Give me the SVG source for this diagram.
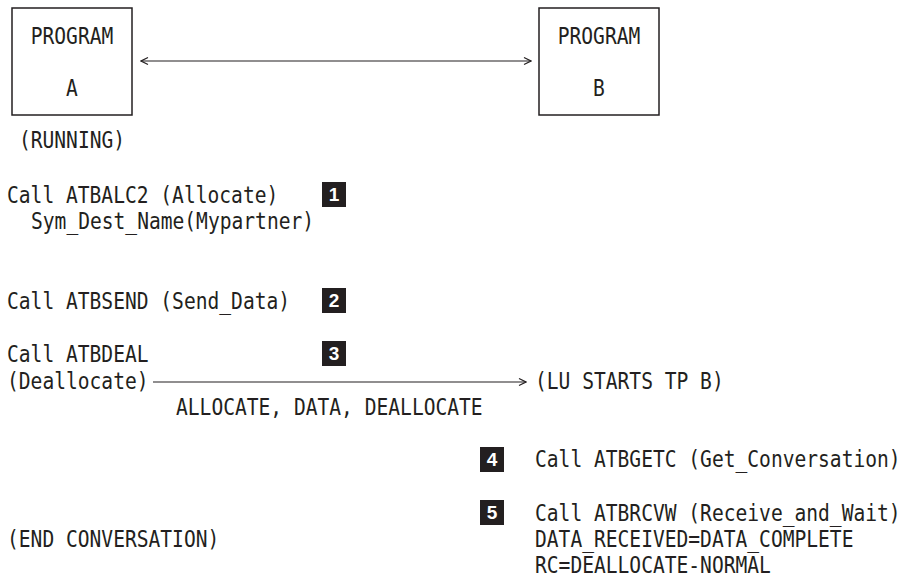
<svg xmlns="http://www.w3.org/2000/svg" width="904" height="580" viewBox="0 0 904 580">
<style>
.t{font-family:"DejaVu Sans Mono","Liberation Mono",monospace;font-size:19.6px;fill:#231f20}
.c{text-anchor:middle}
.box{fill:#fff;stroke:#231f20;stroke-width:1.5}
.ln{stroke:#231f20;stroke-width:1.2;fill:none}
.badge{fill:#231f20}
.num{font-family:"Liberation Sans",Arial,sans-serif;font-weight:bold;font-size:19px;fill:#fff;text-anchor:middle}
</style>
<defs>
<marker id="ah" viewBox="0 0 10 10" refX="9" refY="5" markerWidth="10" markerHeight="10" orient="auto-start-reverse" markerUnits="userSpaceOnUse">
<path d="M2,1.5 L9,5 L2,8.5" fill="none" stroke="#231f20" stroke-width="1.2"/>
</marker>
</defs>
<rect width="904" height="580" fill="#fff"/>
<g id="connectors">
<line class="ln" x1="141" y1="61" x2="531" y2="61" marker-start="url(#ah)" marker-end="url(#ah)"/>
<line class="ln" x1="153" y1="382" x2="526" y2="382" marker-end="url(#ah)"/>
</g>
<g id="programA">
<rect class="box" x="12" y="8" width="120" height="107"/>
<text class="t c" transform="translate(72,44) scale(1,1.19)">PROGRAM</text>
<text class="t c" transform="translate(72,96) scale(1,1.19)">A</text>
</g>
<g id="programB">
<rect class="box" x="539" y="8" width="120" height="107"/>
<text class="t c" transform="translate(599,44) scale(1,1.19)">PROGRAM</text>
<text class="t c" transform="translate(599,96) scale(1,1.19)">B</text>
</g>
<g id="running">
<text class="t c" transform="translate(72,148) scale(1,1.19)">(RUNNING)</text>
</g>
<g id="step1">
<text class="t" transform="translate(7,203) scale(1,1.19)">Call ATBALC2 (Allocate)</text>
<text class="t" transform="translate(31,229) scale(1,1.19)">Sym_Dest_Name(Mypartner)</text>
<rect class="badge" x="322" y="182" width="24" height="25"/>
<text class="num" x="334" y="201">1</text>
</g>
<g id="step2">
<text class="t" transform="translate(7,309) scale(1,1.19)">Call ATBSEND (Send_Data)</text>
<rect class="badge" x="322" y="288" width="24" height="25"/>
<text class="num" x="334" y="307">2</text>
</g>
<g id="step3">
<text class="t" transform="translate(7,362) scale(1,1.19)">Call ATBDEAL</text>
<text class="t" transform="translate(7,389) scale(1,1.19)">(Deallocate)</text>
<rect class="badge" x="322" y="341" width="24" height="25"/>
<text class="num" x="334" y="360">3</text>
<text class="t" transform="translate(176,415) scale(1,1.19)">ALLOCATE, DATA, DEALLOCATE</text>
</g>
<g id="luStarts">
<text class="t" transform="translate(535,389) scale(1,1.19)">(LU STARTS TP B)</text>
</g>
<g id="step4">
<rect class="badge" x="480" y="447" width="24" height="25"/>
<text class="num" x="492" y="466">4</text>
<text class="t" transform="translate(535,467) scale(1,1.19)">Call ATBGETC (Get_Conversation)</text>
</g>
<g id="step5">
<rect class="badge" x="480" y="500" width="24" height="25"/>
<text class="num" x="492" y="519">5</text>
<text class="t" transform="translate(535,521) scale(1,1.19)">Call ATBRCVW (Receive_and_Wait)</text>
<text class="t" transform="translate(535,547) scale(1,1.19)">DATA_RECEIVED=DATA_COMPLETE</text>
<text class="t" transform="translate(535,573) scale(1,1.19)">RC=DEALLOCATE-NORMAL</text>
</g>
<g id="endConversation">
<text class="t" transform="translate(7,547) scale(1,1.19)">(END CONVERSATION)</text>
</g>
</svg>
